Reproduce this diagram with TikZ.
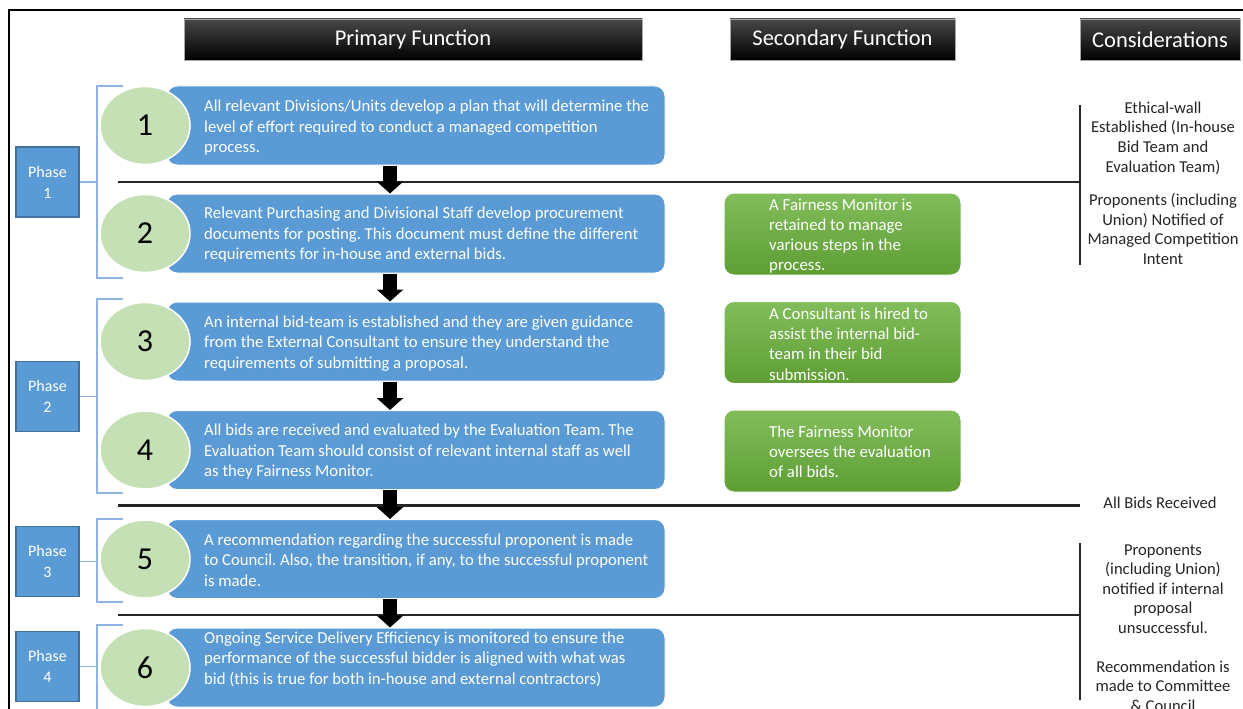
\documentclass[tikz,border=0pt]{standalone}
\usepackage{fontspec}
\setmainfont{Carlito}
\usetikzlibrary{shapes.geometric,arrows.meta}
\definecolor{boxblue}{HTML}{5B9BD5}
\definecolor{phaseborder}{HTML}{41719C}
\definecolor{circgreen}{HTML}{C5E0B4}
\definecolor{gtop}{HTML}{82BD5B}
\definecolor{gbot}{HTML}{5E9E34}
\definecolor{brk}{HTML}{8DB4E2}
\frenchspacing
\begin{document}
\begin{tikzpicture}[x=1pt,y=-1pt,
  header/.style={draw=gray!70, line width=0.6pt, top color=black!72, middle color=black, bottom color=black, text=white, font=\fontsize{22.5}{26}\selectfont, minimum height=41pt, inner sep=0pt},
  bluebox/.style={fill=boxblue, draw=white, line width=1pt, rounded corners=10pt, minimum width=498pt, minimum height=79pt, inner sep=0pt},
  circ/.style={ellipse, fill=circgreen, draw=white, line width=1.5pt, minimum width=90pt, minimum height=78pt, inner sep=0pt, font=\fontsize{32}{32}\selectfont},
  btext/.style={anchor=west, align=left, text=white, font=\fontsize{16.7}{20.5}\selectfont, inner sep=0pt},
  gbox/.style={rounded corners=10pt, top color=gtop, bottom color=gbot, draw=white, line width=1pt, minimum width=237pt, minimum height=82pt, inner sep=0pt},
  gtext/.style={anchor=west, align=left, text=white, font=\fontsize{16.8}{20.2}\selectfont, inner sep=0pt},
  phase/.style={fill=boxblue, draw=phaseborder, line width=1.3pt, minimum width=63pt, minimum height=70pt, inner sep=0pt, text=white, align=center, font=\fontsize{16}{21}\selectfont},
  cons/.style={align=center, text=black!85, font=\fontsize{16.6}{19.6}\selectfont, inner sep=0pt},
  sep/.style={line width=2.2pt, black!85},
  bk/.style={line width=1.2pt, brk},
  bigarrow/.style={line width=14pt, black, -{Triangle[width=26pt,length=12pt]}}
]
\useasboundingbox (0,0) rectangle (1243,709);
\fill[white] (0,0) rectangle (1243,709);
% frame
\draw[line width=2pt] (9,712) -- (9,10) -- (1245,10);

% headers
\node[header, minimum width=458pt] (h1) at (413,39.5) {Primary Function};
\node[header, minimum width=225pt] (h2) at (842.5,39.5) {Secondary Function};
\node[header, minimum width=160pt] (h3) at (1160,39.5) {Considerations};

% coordinates
\coordinate (ax) at (390,0);
\coordinate (bx) at (97,0);

% separator lines
\draw[sep] (118,182) -- (1080,182);
\draw[sep] (118,505.5) -- (1080,505.5);
\draw[sep] (118,615) -- (1080,615);
\draw[sep] (1080,105) -- (1080,265);
\draw[sep] (1080,543) -- (1080,700);

% blue boxes
\node[bluebox] (b1) at (416,125.5) {};
\node[bluebox] (b2) at (416,233.5) {};
\node[bluebox] (b3) at (416,341.5) {};
\node[bluebox] (b4) at (416,450) {};
\node[bluebox] (b5) at (416,559) {};
\node[bluebox] (b6) at (416,667.5) {};

\node[btext] (t1) at (204,128) {All relevant Divisions/Units develop a plan that will determine the\\level of effort required to conduct a managed competition\\process.};
\node[btext] (t2) at (204,235) {Relevant Purchasing and Divisional Staff develop procurement\\documents for posting. This document must define the different\\requirements for in-house and external bids.};
\node[btext] (t3) at (204,343.5) {An internal bid-team is established and they are given guidance\\from the External Consultant to ensure they understand the\\requirements of submitting a proposal.};
\node[btext] (t4) at (204,452) {All bids are received and evaluated by the Evaluation Team. The\\Evaluation Team should consist of relevant internal staff as well\\as they Fairness Monitor.};
\node[btext] (t5) at (204,560) {A recommendation regarding the successful proponent is made\\to Council. Also, the transition, if any, to the successful proponent\\is made.};
\node[btext] (t6) at (204,659) {Ongoing Service Delivery Efficiency is monitored to ensure the\\performance of the successful bidder is aligned with what was\\bid (this is true for both in-house and external contractors)};

% circles
\node[circ] (c1) at (145,125.5) {1};
\node[circ] (c2) at (145,233.5) {2};
\node[circ] (c3) at (145,341.5) {3};
\node[circ] (c4) at (145,450) {4};
\node[circ] (c5) at (145,559) {5};
\node[circ] (c6) at (145,667.5) {6};

% arrows
\draw[bigarrow] (b1.south -| ax) -- (b2.north -| ax);
\draw[bigarrow] (b2.south -| ax) -- (b3.north -| ax);
\draw[bigarrow] (b3.south -| ax) -- (b4.north -| ax);
\draw[bigarrow] (b4.south -| ax) -- (b5.north -| ax);
\draw[bigarrow] (b5.south -| ax) -- (b6.north -| ax);

% green boxes
\node[gbox] (g1) at (842.5,234) {};
\node[gbox] (g2) at (842.5,342.5) {};
\node[gbox] (g3) at (842.5,451) {};
\node[gtext] (gt1) at (769,236) {A Fairness Monitor is\\retained to manage\\various steps in the\\process.};
\node[gtext] (gt2) at (769,344) {A Consultant is hired to\\assist the internal bid-\\team in their bid\\submission.};
\node[gtext] (gt3) at (769,452) {The Fairness Monitor\\oversees the evaluation\\of all bids.};

% phases
\node[phase] (p1) at (47.5,182) {Phase\\1};
\node[phase] (p2) at (47.5,396.5) {Phase\\2};
\node[phase] (p3) at (47.5,561.5) {Phase\\3};
\node[phase] (p4) at (47.5,666.5) {Phase\\4};

% brackets
\draw[bk] (p1.east) -- (p1.east -| bx);
\draw[bk] (p2.east) -- (p2.east -| bx);
\draw[bk] (p3.east) -- (p3.east -| bx);
\draw[bk] (p4.east) -- (p4.east -| bx);
\draw[bk] (123,86) -- (97,86) -- (97,278) -- (123,278);
\draw[bk] (123,299) -- (97,299) -- (97,493) -- (123,493);
\draw[bk] (123,519) -- (97,519) -- (97,602) -- (123,602);
\draw[bk] (123,625) -- (97,625) -- (97,715);

% considerations
\node[cons] (k1) at (1163,138) {Ethical-wall\\Established (In-house\\Bid Team and\\Evaluation Team)};
\node[cons] (k2) at (1163,229) {Proponents (including\\Union) Notified of\\Managed Competition\\Intent};
\node[cons] (k3) at (1160,503) {All Bids Received};
\node[cons] (k4) at (1163,589) {Proponents\\(including Union)\\notified if internal\\proposal\\unsuccessful.};
\node[cons] (k5) at (1163,686) {Recommendation is\\made to Committee\\\& Council};
\end{tikzpicture}
\end{document}
